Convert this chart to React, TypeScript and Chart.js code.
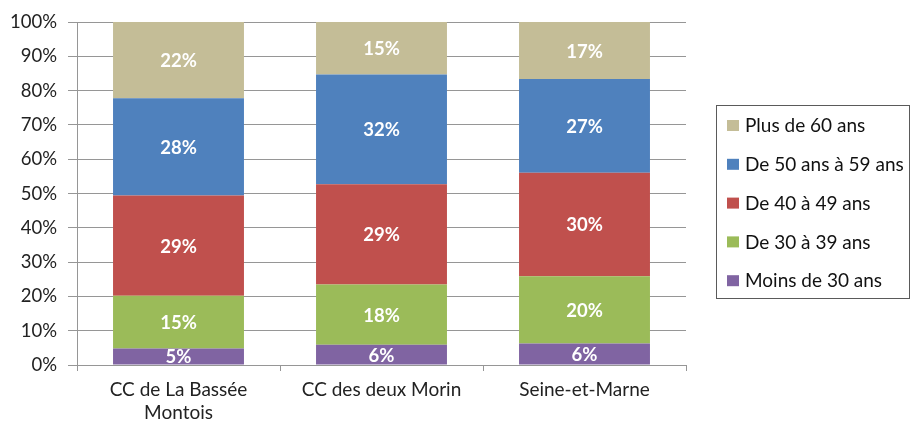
import React, { useEffect, useRef } from 'react';
import { Chart, registerables } from 'chart.js';

Chart.register(...registerables);

const categories: (string | string[])[] = [['CC de La Bassée', 'Montois'], 'CC des deux Morin', 'Seine-et-Marne'];
const seriesNames = ['Moins de 30 ans', 'De 30 à 39 ans', 'De 40 à 49 ans', 'De 50 ans à 59 ans', 'Plus de 60 ans'];
const moins30 = [4.8, 5.9, 6.3];
const de30a39 = [15.4, 17.6, 19.6];
const de40a49 = [29.2, 29.2, 30.2];
const de50a59 = [28.4, 32.0, 27.3];
const plus60 = [22.2, 15.3, 16.6];
const seriesColors = ['#8064A2', '#9BBB59', '#C0504D', '#4F81BD', '#C4BD97'];
const yMin = 0;
const yMax = 100;
const yStep = 10;

const FONT = 'Lato, "Open Sans", sans-serif';

const dataLabelPlugin = {
  id: 'dataLabels',
  afterDatasetsDraw(chart: any) {
    const ctx = chart.ctx;
    ctx.save();
    ctx.fillStyle = '#ffffff';
    ctx.font = `bold 18.5px ${FONT}`;
    ctx.textAlign = 'center';
    ctx.textBaseline = 'middle';
    chart.data.datasets.forEach((ds: any, i: number) => {
      const meta = chart.getDatasetMeta(i);
      meta.data.forEach((bar: any, j: number) => {
        const v = ds.data[j];
        const { x, y, base } = bar.getProps(['x', 'y', 'base'], true);
        ctx.fillText(Math.round(v) + '%', x, (y + base) / 2 + 1);
      });
    });
    ctx.restore();
  },
};

const boxLegendPlugin = {
  id: 'boxLegend',
  afterDraw(chart: any) {
    const ctx = chart.ctx;
    ctx.save();
    ctx.strokeStyle = '#5a5a5a';
    ctx.lineWidth = 1;
    ctx.strokeRect(716.5, 105.5, 193, 193);
    const ds = chart.data.datasets;
    ctx.font = `19px ${FONT}`;
    ctx.textAlign = 'left';
    ctx.textBaseline = 'middle';
    for (let i = 0; i < ds.length; i++) {
      const d = ds[ds.length - 1 - i];
      const cy = 125 + i * 38.8;
      ctx.fillStyle = d.backgroundColor;
      ctx.fillRect(727, cy - 5, 12, 11);
      ctx.fillStyle = '#111';
      ctx.fillText(d.label, 745, cy + 1);
    }
    ctx.restore();
  },
};

export default function App() {
  const ref = useRef<HTMLCanvasElement>(null);
  useEffect(() => {
    document.body.style.margin = '0';
    const seriesData = [moins30, de30a39, de40a49, de50a59, plus60];
    const chart = new Chart(ref.current!, {
      type: 'bar',
      data: {
        labels: categories,
        datasets: seriesData.map((d, i) => ({
          label: seriesNames[i],
          data: d,
          backgroundColor: seriesColors[i],
          borderWidth: 0,
          barPercentage: 0.645,
          categoryPercentage: 1,
        })),
      },
      options: {
        responsive: false,
        animation: false,
        layout: { padding: { top: 20, right: 226, left: 0, bottom: 0 } },
        plugins: { legend: { display: false }, tooltip: { enabled: false } },
        scales: {
          x: {
            stacked: true,
            grid: { display: true, drawOnChartArea: false, drawTicks: true, tickLength: 6, color: '#969696', offset: true },
            border: { color: '#969696' },
            ticks: { color: '#222', font: { family: FONT, size: 19, lineHeight: 1.22 }, padding: 7, maxRotation: 0 },
            afterFit: (s: any) => { s.height = 59; },
          },
          y: {
            stacked: true,
            min: yMin,
            max: yMax,
            grid: { color: '#969696', tickLength: 9, drawTicks: true },
            border: { color: '#969696' },
            ticks: {
              stepSize: yStep,
              color: '#222',
              font: { family: FONT, size: 18.5 },
              padding: 11,
              callback: (v: any) => v + '%',
            },
            afterFit: (s: any) => { s.width = 77; },
          },
        },
      },
      plugins: [dataLabelPlugin, boxLegendPlugin],
    });
    return () => chart.destroy();
  }, []);
  return (
    <div style={{ width: 912, height: 424 }}>
      <canvas ref={ref} width={912} height={424} />
    </div>
  );
}
